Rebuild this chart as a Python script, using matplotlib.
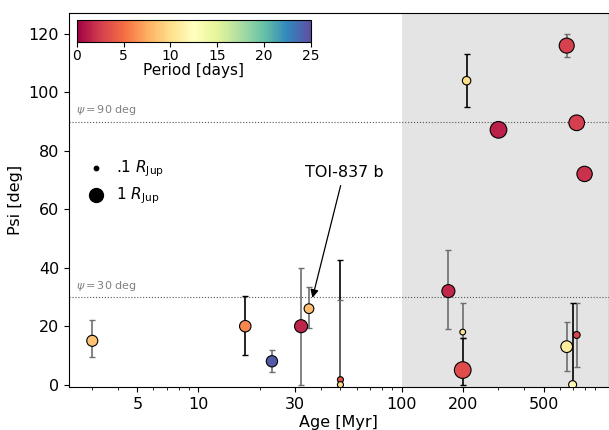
import numpy as np
import matplotlib
matplotlib.use("Agg")
import matplotlib.pyplot as plt
from matplotlib.ticker import FixedLocator, NullFormatter

# Sample: system age, spin-orbit angle, errors, period, planet radius
age = [3.0, 17.0, 23.0, 32.0, 35.0, 50.0, 50.0, 209.0, 300.0, 650.0,
       728.0, 796.0, 170.0, 200.0, 200.0, 650.0, 728.0, 695.0]
psi = [15.0, 20.0, 8.0, 20.0, 26.0, 1.7, 0.0, 104.0, 87.2, 116.0,
       89.6, 72.1, 32.0, 18.0, 5.0, 13.0, 17.0, 0.0]
psi_lo = [5.5, 10.0, 3.8, 20.0, 6.5, 1.7, 0.0, 9.0, 0.0, 4.0,
          0.0, 0.0, 13.0, 2.0, 5.0, 8.2, 11.0, 0.0]
psi_hi = [7.0, 10.5, 4.0, 20.0, 7.5, 41.0, 29.0, 9.0, 0.0, 4.0,
          0.0, 0.0, 14.0, 10.0, 11.0, 8.3, 11.0, 28.0]
err_black = [False, True, False, False, False, True, False, True, False, False,
             False, False, False, False, True, False, False, True]
period = [8.5, 6.0, 24.5, 1.5, 8.3, 3.7, 10.0, 10.0, 1.3, 2.7,
          2.6, 2.0, 1.6, 10.5, 3.3, 11.0, 3.0, 12.0]
radius = [0.63, 0.68, 0.66, 0.88, 0.49, 0.19, 0.19, 0.37, 1.44, 1.17,
          1.27, 1.22, 0.88, 0.17, 1.44, 0.71, 0.25, 0.33]

x_ticks = [5, 10, 30, 100, 200, 500]
size_scale = 100.0

fig = plt.figure(figsize=(6.09, 4.30), dpi=100)
ax = fig.add_axes([0.113, 0.1, 0.887, 0.87])

ax.axvspan(100, 3000, color="#e4e4e4", zorder=0, lw=0)

for a, p, lo, hi, blk in zip(age, psi, psi_lo, psi_hi, err_black):
    if lo == 0 and hi == 0:
        continue
    ax.errorbar(a, p, yerr=[[lo], [hi]], fmt="none",
                ecolor="black" if blk else "#6e6e6e",
                elinewidth=1.2, capsize=2, capthick=1, zorder=2)

sc = ax.scatter(age, psi, c=period, cmap="Spectral", vmin=0, vmax=25,
                s=np.array(radius) * size_scale, edgecolors="black",
                linewidths=0.8, zorder=3)

# Reference obliquity levels
for lvl in [90, 30]:
    ax.axhline(lvl, color="#555555", ls=":", lw=0.8, zorder=1)
    ax.text(2.5, lvl + 1.5, r"$\psi = %d$ deg" % lvl, color="gray",
            fontsize=8, va="bottom")

ax.annotate("TOI-837 b", xy=(36.4, 29.7), xytext=(52, 70),
            ha="center", va="bottom", fontsize=11.5,
            arrowprops=dict(arrowstyle="-|>", color="black", lw=0.9,
                            mutation_scale=12, shrinkA=2, shrinkB=0))

# Size legend
h1 = ax.scatter([], [], s=0.1 * size_scale, color="black")
h2 = ax.scatter([], [], s=1.0 * size_scale, color="black")
ax.legend([h1, h2], [r".1 $R_{\rm Jup}$", r"1 $R_{\rm Jup}$"],
          loc="upper left", bbox_to_anchor=(0.0, 0.645), frameon=False,
          fontsize=11, handletextpad=0.3, borderaxespad=0.4,
          labelspacing=0.45)

ax.set_xscale("log")
ax.set_xlim(2.3, 1050)
ax.set_ylim(-0.8, 127.2)
ax.xaxis.set_major_locator(FixedLocator(x_ticks))
ax.set_xticklabels([str(t) for t in x_ticks])
ax.xaxis.set_minor_formatter(NullFormatter())
ax.set_yticks([0, 20, 40, 60, 80, 100, 120])
ax.tick_params(labelsize=11.5)
ax.set_xlabel("Age [Myr]", fontsize=11.5, labelpad=2)
ax.set_ylabel("Psi [deg]", fontsize=11.5)

cax = ax.inset_axes([0.015, 0.922, 0.433, 0.059])
cb = fig.colorbar(sc, cax=cax, orientation="horizontal")
cb.set_ticks([0, 5, 10, 15, 20, 25])
cb.ax.tick_params(labelsize=10, pad=1.5)
cb.set_label("Period [days]", fontsize=11, labelpad=0)

fig.savefig("out.png", dpi=100)
